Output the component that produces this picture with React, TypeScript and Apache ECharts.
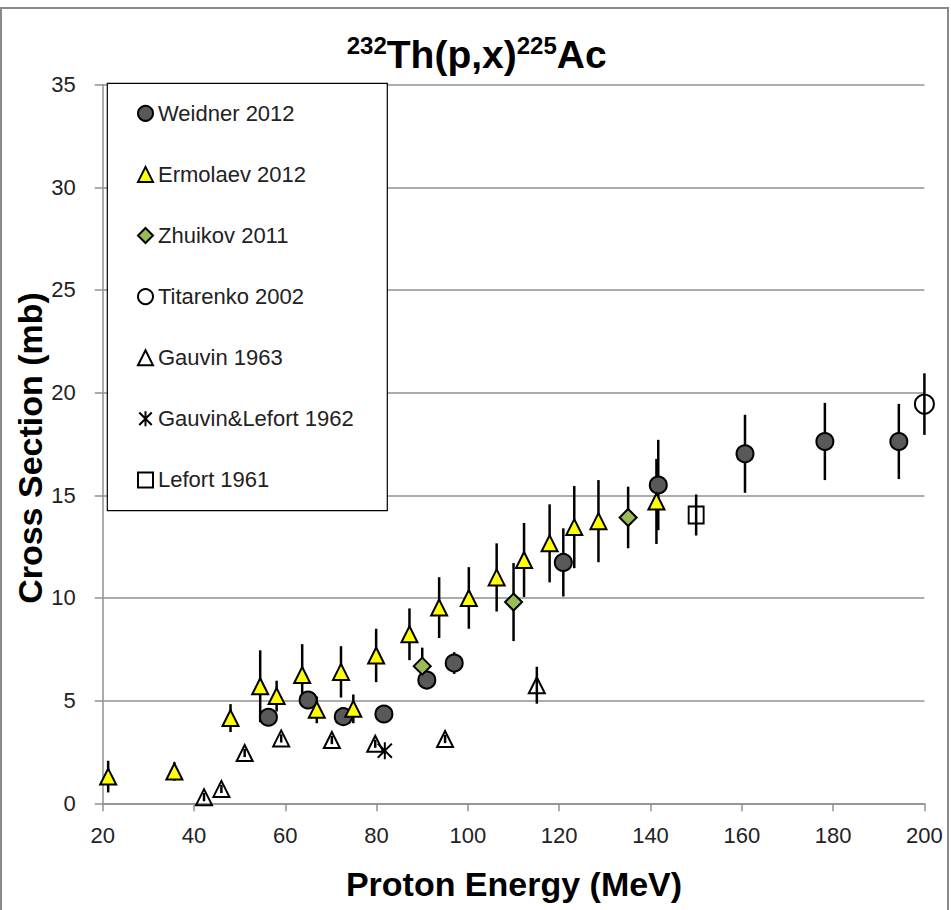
import React, { useEffect, useRef } from "react";
import * as echarts from "echarts";

// ---- Data (Proton energy MeV, cross section mb, error mb) ----
const weidnerE = [56.3, 65.0, 72.7, 81.6, 91.0, 97.0, 120.9, 141.7, 160.7, 178.2, 194.4];
const weidnerCS = [4.19, 5.03, 4.22, 4.35, 6.0, 6.83, 11.73, 15.5, 17.02, 17.62, 17.62];
const weidnerErr = [0.3, 0.3, 0.3, 0.3, 0.3, 0.53, 1.66, 2.2, 1.9, 1.88, 1.83];

const ermolaevE = [21.2, 35.7, 48.0, 54.5, 58.1, 63.7, 66.9, 72.2, 74.9, 79.9, 87.2, 93.7, 100.2, 106.3, 112.3, 117.9, 123.3, 128.6, 141.3];
const ermolaevCS = [1.3, 1.55, 4.15, 5.7, 5.22, 6.25, 4.55, 6.4, 4.6, 7.2, 8.23, 9.53, 10.0, 11.0, 11.85, 12.66, 13.45, 13.74, 14.7];
const ermolaevErr = [0.77, 0.45, 0.68, 1.75, 0.75, 1.5, 0.65, 1.25, 0.7, 1.3, 1.26, 1.48, 1.5, 1.66, 1.8, 1.9, 2.0, 2.0, 2.07];

const zhuikovE = [90.0, 110.0, 135.1];
const zhuikovCS = [6.68, 9.8, 13.92];
const zhuikovErr = [0.9, 1.9, 1.5];

const titarenkoE = [200.0];
const titarenkoCS = [19.44];
const titarenkoErr = [1.5];

const gauvinE = [42.2, 46.0, 51.1, 59.1, 70.2, 79.7, 95.0, 115.1];
const gauvinCS = [0.3, 0.7, 2.45, 3.16, 3.08, 2.9, 3.13, 5.75];
const gauvinErr = [0.2, 0.2, 0.2, 0.2, 0.2, 0.2, 0.2, 0.9];

const gauvinLefortE = [81.8];
const gauvinLefortCS = [2.56];
const gauvinLefortErr = [0.1];

const lefortE = [150.0];
const lefortCS = [14.04];
const lefortErr = [1.0];

const seriesNames = [
  "Weidner 2012",
  "Ermolaev 2012",
  "Zhuikov 2011",
  "Titarenko 2002",
  "Gauvin 1963",
  "Gauvin&Lefort 1962",
  "Lefort 1961",
];

const FONT = "'Liberation Sans', Arial, sans-serif";
const GRID_COLOR = "#909090";

const zip = (xs: number[], ys: number[], es: number[]) => xs.map((x, i) => [x, ys[i], es[i]]);

export default function App() {
  const ref = useRef<HTMLDivElement>(null);

  useEffect(() => {
    if (!ref.current) return;
    const chart = echarts.init(ref.current, null, { renderer: "svg" });

    const sets = [
      { name: seriesNames[0], data: zip(weidnerE, weidnerCS, weidnerErr), symbol: "circle", size: 17, fill: "#595959" },
      { name: seriesNames[1], data: zip(ermolaevE, ermolaevCS, ermolaevErr), symbol: "triangle", size: 16, fill: "#FFFF00" },
      { name: seriesNames[2], data: zip(zhuikovE, zhuikovCS, zhuikovErr), symbol: "diamond", size: 17, fill: "#9BBB59" },
      { name: seriesNames[3], data: zip(titarenkoE, titarenkoCS, titarenkoErr), symbol: "circle", size: 19, fill: "rgba(255,255,255,0)" },
      { name: seriesNames[4], data: zip(gauvinE, gauvinCS, gauvinErr), symbol: "triangle", size: 16, fill: "rgba(255,255,255,0)" },
      {
        name: seriesNames[5],
        data: zip(gauvinLefortE, gauvinLefortCS, gauvinLefortErr),
        symbol: "path://M0,0L10,10M10,0L0,10M5,-1L5,11",
        size: 17,
        fill: "rgba(255,255,255,0)",
      },
      { name: seriesNames[6], data: zip(lefortE, lefortCS, lefortErr), symbol: "rect", size: [15, 17], fill: "rgba(255,255,255,0)" },
    ];

    const errorSeries = sets.map((s) => ({
      type: "custom",
      name: s.name + " err",
      data: s.data,
      z: 1,
      silent: true,
      encode: { x: 0, y: 1 },
      renderItem: (_params: any, api: any) => {
        const x = api.value(0);
        const y = api.value(1);
        const e = api.value(2);
        const p1 = api.coord([x, y - e]);
        const p2 = api.coord([x, y + e]);
        return {
          type: "line",
          shape: { x1: p1[0], y1: p1[1], x2: p2[0], y2: p2[1] },
          style: { stroke: "#000", lineWidth: 2.5 },
        };
      },
    }));

    const scatterSeries = sets.map((s) => ({
      type: "scatter",
      name: s.name,
      data: s.data.map((d) => [d[0], d[1]]),
      symbol: s.symbol,
      symbolSize: s.size,
      symbolKeepAspect: true,
      z: 3,
      itemStyle: {
        color: s.fill,
        borderColor: "#000",
        borderWidth: 2,
        opacity: 1,
      },
      emphasis: { disabled: true },
    }));

    const option: any = {
      animation: false,
      backgroundColor: "#ffffff",
      textStyle: { fontFamily: FONT },
      grid: { left: 102.7, right: 26.6, top: 84.6, bottom: 106.7, containLabel: false },
      xAxis: {
        type: "value",
        min: 20,
        max: 200,
        interval: 20,
        axisLine: { show: true, onZero: false, lineStyle: { color: GRID_COLOR, width: 1.5 } },
        axisTick: { show: true, inside: false, length: 8, lineStyle: { color: GRID_COLOR, width: 1.5 } },
        axisLabel: { fontSize: 22, color: "#222", margin: 21, fontFamily: FONT },
        splitLine: { show: false },
      },
      yAxis: {
        type: "value",
        min: 0,
        max: 35,
        interval: 5,
        axisLine: { show: true, lineStyle: { color: GRID_COLOR, width: 1.5 } },
        axisTick: { show: true, inside: false, length: 8, lineStyle: { color: GRID_COLOR, width: 1.5 } },
        axisLabel: { fontSize: 22, color: "#222", margin: 27, fontFamily: FONT },
        splitLine: { show: true, lineStyle: { color: GRID_COLOR, width: 1.5 } },
      },
      legend: {
        data: seriesNames,
        orient: "vertical",
        left: 137,
        top: 102.3,
        itemWidth: 15,
        itemHeight: 15,
        itemGap: 39.1,
        padding: 0,
        z: 10,
        selectedMode: false,
        textStyle: { fontSize: 22, color: "#222", fontFamily: FONT },
      },
      graphic: [
        {
          type: "rect",
          z: -10,
          silent: true,
          shape: { x: 1, y: 8, width: 947, height: 905 },
          style: { fill: "none", stroke: "#8a8a8a", lineWidth: 2 },
        },
        {
          type: "rect",
          z: 9,
          silent: true,
          shape: { x: 107.3, y: 83.3, width: 280, height: 427.4 },
          style: { fill: "#ffffff", stroke: "#000", lineWidth: 1.2 },
        },
        {
          type: "text",
          z: 10,
          x: 476.7,
          y: 33.6,
          style: {
            text: "{s|232}{m|Th(p,x)}{s|225}{m|Ac}",
            align: "center",
            verticalAlign: "top",
            rich: {
              s: { fontSize: 24, fontWeight: "bold", fontFamily: FONT, lineHeight: 24, verticalAlign: "top", fill: "#000" },
              m: { fontSize: 39, fontWeight: "bold", fontFamily: FONT, lineHeight: 40, verticalAlign: "bottom", fill: "#000" },
            },
          },
        },
        {
          type: "text",
          z: 10,
          x: 514,
          y: 884,
          style: {
            text: "Proton Energy (MeV)",
            fontSize: 34,
            fontWeight: "bold",
            fontFamily: FONT,
            fill: "#000",
            align: "center",
            verticalAlign: "middle",
          },
        },
        {
          type: "text",
          z: 10,
          x: 30,
          y: 448,
          rotation: Math.PI / 2,
          style: {
            text: "Cross Section (mb)",
            fontSize: 34,
            fontWeight: "bold",
            fontFamily: FONT,
            fill: "#000",
            align: "center",
            verticalAlign: "middle",
          },
        },
      ],
      series: [...errorSeries, ...scatterSeries],
    };

    chart.setOption(option);
    return () => chart.dispose();
  }, []);

  return (
    <div
      ref={ref}
      style={{ position: "absolute", left: 0, top: 0, width: 951, height: 910 }}
    />
  );
}
